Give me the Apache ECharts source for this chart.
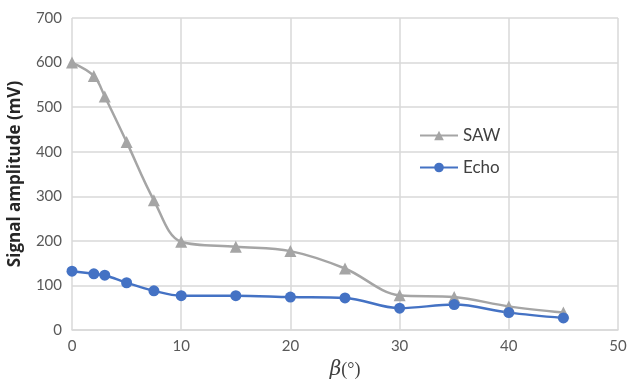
<!DOCTYPE html>
<html>
<head>
<meta charset="utf-8">
<script src="https://cdn.jsdelivr.net/npm/echarts@6/dist/echarts.min.js"></script>
<style>
  html, body { margin: 0; padding: 0; background: #fff; }
  #chart { width: 629px; height: 379px; }
</style>
</head>
<body>
<div id="chart"></div>
<script>
const betaValues = [0, 2, 3, 5, 7.5, 10, 15, 20, 25, 30, 35, 40, 45];
const sawValues = [600, 570, 524, 422, 291, 198, 187, 177, 138, 78, 74, 53, 39];
const echoValues = [132, 126, 123, 106, 88, 77, 77, 74, 72, 49, 57, 39, 27];
const seriesNames = ["SAW", "Echo"];

const pairs = (ys) => betaValues.map((x, i) => [x, ys[i]]);

const myChart = echarts.init(document.getElementById("chart"));
const labelFont = "Lato, 'Liberation Sans', sans-serif";

const option = {
  animation: false,
  backgroundColor: "#fff",
  grid: { left: 72, right: 11, top: 18, bottom: 49, outerBoundsMode: "none" },
  legend: {
    orient: "vertical",
    left: 414,
    top: 122,
    itemGap: 15,
    itemWidth: 38,
    itemHeight: 12,
    data: seriesNames,
    textStyle: { fontFamily: labelFont, fontSize: 17, color: "#404040" }
  },
  xAxis: {
    type: "value",
    min: 0,
    max: 50,
    interval: 10,
    name: "{b|β}{p|(°)}",
    nameLocation: "middle",
    nameGap: 30,
    nameTextStyle: {
      rich: {
        b: { fontFamily: "'DejaVu Serif', serif", fontStyle: "italic", fontSize: 20, color: "#404040" },
        p: { fontFamily: "'Liberation Serif', serif", fontSize: 18, color: "#404040" }
      }
    },
    axisLine: { lineStyle: { color: "#d9d9d9", width: 1.5 } },
    axisTick: { show: false },
    axisLabel: { fontFamily: labelFont, fontSize: 15, color: "#595959", margin: 9 },
    splitLine: { show: true, lineStyle: { color: "#d9d9d9", width: 1.5 } }
  },
  yAxis: {
    type: "value",
    min: 0,
    max: 700,
    interval: 100,
    name: "Signal amplitude (mV)",
    nameLocation: "middle",
    nameGap: 48,
    nameTextStyle: { fontFamily: "'Open Sans', sans-serif", fontWeight: "bold", fontSize: 17, color: "#262626" },
    axisLine: { show: false },
    axisTick: { show: false },
    axisLabel: { fontFamily: labelFont, fontSize: 15, color: "#595959", margin: 10 },
    splitLine: { show: true, lineStyle: { color: "#d9d9d9", width: 1.5 } }
  },
  series: [
    {
      name: seriesNames[0],
      type: "line",
      data: pairs(sawValues),
      smooth: 0.35,
      symbol: "triangle",
      symbolSize: 12,
      itemStyle: { color: "#a5a5a5" },
      lineStyle: { color: "#a5a5a5", width: 2.5 }
    },
    {
      name: seriesNames[1],
      type: "line",
      data: pairs(echoValues),
      smooth: 0.35,
      symbol: "circle",
      symbolSize: 11,
      itemStyle: { color: "#4472c4" },
      lineStyle: { color: "#4472c4", width: 2.5 }
    }
  ]
};

option && myChart.setOption(option);
</script>
</body>
</html>
